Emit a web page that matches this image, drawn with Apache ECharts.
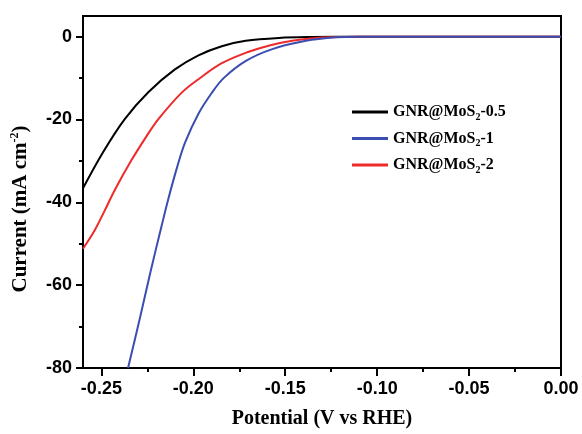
<!DOCTYPE html>
<html>
<head>
<meta charset="utf-8">
<script src="https://cdn.jsdelivr.net/npm/echarts@6/dist/echarts.min.js"></script>
<style>html,body{margin:0;padding:0;background:#fff;}#c{width:582px;height:434px;}</style>
</head>
<body>
<div id="c"></div>
<script>
// ---- data ----
var seriesNames = ['GNR@MoS2-0.5', 'GNR@MoS2-1', 'GNR@MoS2-2'];
var blackX = [-0.26,-0.2491,-0.2373,-0.2245,-0.21,-0.1972,-0.1845,-0.1715,-0.1534,-0.135,-0.11,-0.05,0];
var blackY = [-36.6,-27.9,-19.9,-13.4,-7.9,-4.5,-2.3,-1.0,-0.3,-0.08,0,0,0];
var blueX = [-0.2355,-0.2298,-0.2234,-0.2172,-0.2136,-0.209,-0.2045,-0.1972,-0.19,-0.1835,-0.1716,-0.157,-0.1388,-0.1224,-0.11,-0.05,0];
var blueY = [-80,-69.4,-57.0,-45.6,-39.2,-31.8,-25.6,-18.6,-13.6,-10.0,-5.9,-3.0,-1.0,-0.15,0,0,0];
var redX = [-0.26,-0.2537,-0.2482,-0.2427,-0.2336,-0.2254,-0.219,-0.2063,-0.1961,-0.1845,-0.1716,-0.1625,-0.1535,-0.1443,-0.1297,-0.11,-0.05,0];
var redY = [-51.2,-46.8,-42.0,-37.0,-29.8,-24.0,-19.9,-13.5,-9.9,-6.4,-3.9,-2.6,-1.6,-0.85,-0.2,0,0,0];
var xMajorTicks = [-0.25,-0.20,-0.15,-0.10,-0.05,0.00];
var xMinorTicks = [-0.225,-0.175,-0.125,-0.075,-0.025];
var yMajorTicks = [-80,-60,-40,-20,0];
var yMinorTicks = [-70,-50,-30,-10];

function pairs(xs, ys) { return xs.map(function (x, i) { return [x, ys[i]]; }); }

var chart = echarts.init(document.getElementById('c'), null, {renderer: 'canvas'});
var tickFont = {fontFamily: 'Liberation Sans, Arial, sans-serif', fontWeight: 'bold', fontSize: 18, color: '#000'};
var serif = 'Liberation Serif, Times New Roman, serif';

chart.setOption({
  animation: false,
  backgroundColor: '#fff',
  grid: {left: 83, right: 21, top: 16, bottom: 64, show: true, borderColor: '#000', borderWidth: 2, backgroundColor: 'transparent'},
  legend: {
    data: [seriesNames[0], seriesNames[1], seriesNames[2]],
    orient: 'vertical', left: 347, top: 99, itemWidth: 36, itemHeight: 3, itemGap: 8.5,
    icon: 'rect',
    formatter: function (n) { var p = n.split('MoS2'); return '{a|' + p[0] + 'MoS}{s|2}{a|' + p[1] + '}'; },
    textStyle: {
      rich: {
        a: {fontFamily: serif, fontWeight: 'bold', fontSize: 16, color: '#000', lineHeight: 20},
        s: {fontFamily: serif, fontWeight: 'bold', fontSize: 10, color: '#000', verticalAlign: 'bottom', lineHeight: 10}
      }
    }
  },
  xAxis: [{
    type: 'value', min: -0.26, max: 0, position: 'bottom',
    name: 'Potential (V vs RHE)', nameLocation: 'middle', nameGap: 41,
    nameTextStyle: {fontFamily: serif, fontWeight: 'bold', fontSize: 20, color: '#000'},
    axisLine: {show: true, onZero: false, lineStyle: {color: '#000', width: 2}},
    axisTick: {show: true, inside: false, length: 8, lineStyle: {color: '#000', width: 2}, customValues: xMajorTicks},
    axisLabel: Object.assign({margin: 12, customValues: xMajorTicks, formatter: function (v) { return v.toFixed(2); }}, tickFont),
    splitLine: {show: false}
  }, {
    type: 'value', min: -0.26, max: 0, position: 'bottom', offset: 0,
    axisLine: {show: false, onZero: false},
    axisTick: {show: true, inside: false, length: 4, lineStyle: {color: '#000', width: 2}, customValues: xMinorTicks},
    axisLabel: {show: false},
    splitLine: {show: false}
  }],
  yAxis: [{
    type: 'value', min: -80, max: 5, position: 'left',
    name: '{a|Current (mA cm}{s|-2}{a|)}', nameLocation: 'middle', nameGap: 50, nameRotate: 90,
    nameTextStyle: {
      padding: [0, 34, 0, 0],
      rich: {
        a: {fontFamily: serif, fontWeight: 'bold', fontSize: 21, color: '#000', lineHeight: 24},
        s: {fontFamily: serif, fontWeight: 'bold', fontSize: 12, color: '#000', verticalAlign: 'top', lineHeight: 12}
      }
    },
    axisLine: {show: true, onZero: false, lineStyle: {color: '#000', width: 2}},
    axisTick: {show: true, length: 7, lineStyle: {color: '#000', width: 2}, customValues: yMajorTicks},
    axisLabel: Object.assign({margin: 11, customValues: yMajorTicks}, tickFont),
    splitLine: {show: false}
  }, {
    type: 'value', min: -80, max: 5, position: 'left', offset: 0,
    axisLine: {show: false, onZero: false},
    axisTick: {show: true, inside: false, length: 4, lineStyle: {color: '#000', width: 2}, customValues: yMinorTicks},
    axisLabel: {show: false},
    splitLine: {show: false}
  }],
  series: [
    {name: seriesNames[0], type: 'line', data: pairs(blackX, blackY), showSymbol: false, smooth: 0.35, color: '#000000', lineStyle: {width: 2}, z: 2},
    {name: seriesNames[2], type: 'line', data: pairs(redX, redY), showSymbol: false, smooth: 0.35, color: '#ee2a2a', lineStyle: {width: 2}, z: 3},
    {name: seriesNames[1], type: 'line', data: pairs(blueX, blueY), showSymbol: false, smooth: 0.35, color: '#3a4db0', lineStyle: {width: 2}, z: 4}
  ]
});
</script>
</body>
</html>
